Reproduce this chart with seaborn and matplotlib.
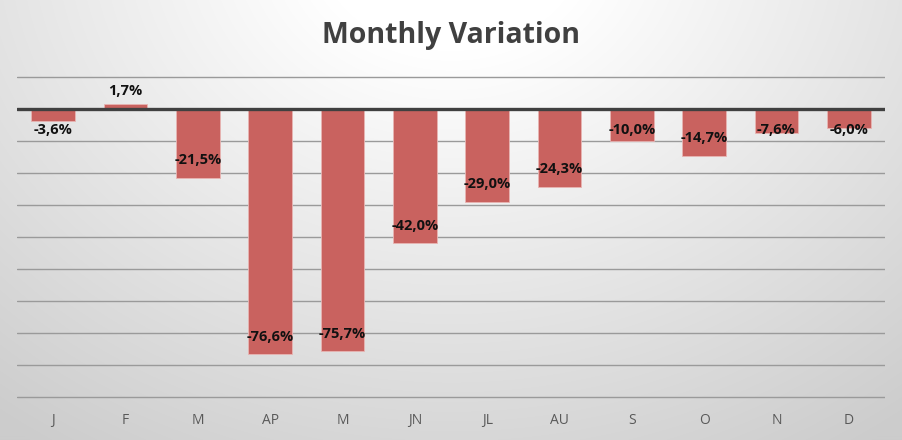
import numpy as np
import pandas as pd
import matplotlib
matplotlib.use("Agg")
import matplotlib.pyplot as plt
import seaborn as sns

months = ["J", "F", "M", "AP", "M", "JN", "JL", "AU", "S", "O", "N", "D"]
variation = [-3.6, 1.7, -21.5, -76.6, -75.7, -42.0, -29.0, -24.3, -10.0, -14.7, -7.6, -6.0]
title = "Monthly Variation"

sns.set_theme(style="white")
plt.rcParams['font.family'] = ['Open Sans', 'DejaVu Sans']

fig = plt.figure(figsize=(9.03, 4.40), dpi=100)

# background gradient
bg = fig.add_axes([0, 0, 1, 1], zorder=0)
bg.axis("off")
yy, xx = np.mgrid[0:440, 0:903]
d = np.sqrt(((xx - 451) / 903) ** 2 + ((yy + 60) / 440) ** 2 * 0.35)
val = np.clip(1.0 - 0.30 * (d - 0.15), 0.80, 1.0)
bg.imshow(np.dstack([val, val, val]), aspect="auto", extent=[0, 1, 0, 1], origin="upper")
bg.set_xlim(0, 1); bg.set_ylim(0, 1)

ymin, ymax = -91.0, 12.0
ax = fig.add_axes([17 / 903, (440 - 397 - 3.2) / 440, 868 / 903, (ymax - ymin) * 3.2 / 440], zorder=1)
ax.patch.set_alpha(0)

df = pd.DataFrame({"pos": np.arange(len(months)), "value": variation})
sns.barplot(data=df, x="pos", y="value", color="#C9625F", saturation=1, width=0.6,
            ax=ax, zorder=2)
for p in ax.patches:
    p.set_edgecolor("#E8B5B3")
    p.set_linewidth(0.6)

ax.set_ylim(ymin, ymax)
ax.set_xlim(-0.5, len(months) - 0.5)
for g in range(-90, 11, 10):
    if g == 0:
        continue
    ax.axhline(g, color="#9A9A9A", lw=1.0, zorder=1)
ax.axhline(0, color="#404040", lw=2.4, zorder=3)

for i, v in enumerate(variation):
    lab = f"{v:.1f}%".replace(".", ",")
    if v >= 0:
        y = v + 4.0
    else:
        y = min(v + 5.5, -6.5)
    ax.text(i, y, lab, ha="center", va="center", fontsize=10.5, fontweight="bold",
            color="#111111", zorder=4)

ax.set_xticks(np.arange(len(months)))
ax.set_xticklabels(months, fontsize=10, color="#595959")
ax.tick_params(axis="x", length=0, pad=9)
ax.set_yticks([])
ax.set_xlabel(""); ax.set_ylabel("")
for s in ax.spines.values():
    s.set_visible(False)

fig.text(0.5, 1 - 35 / 440, title, ha="center", va="center", fontsize=20.5,
         fontweight="bold", color="#404040")

fig.savefig("out.png", dpi=100)
